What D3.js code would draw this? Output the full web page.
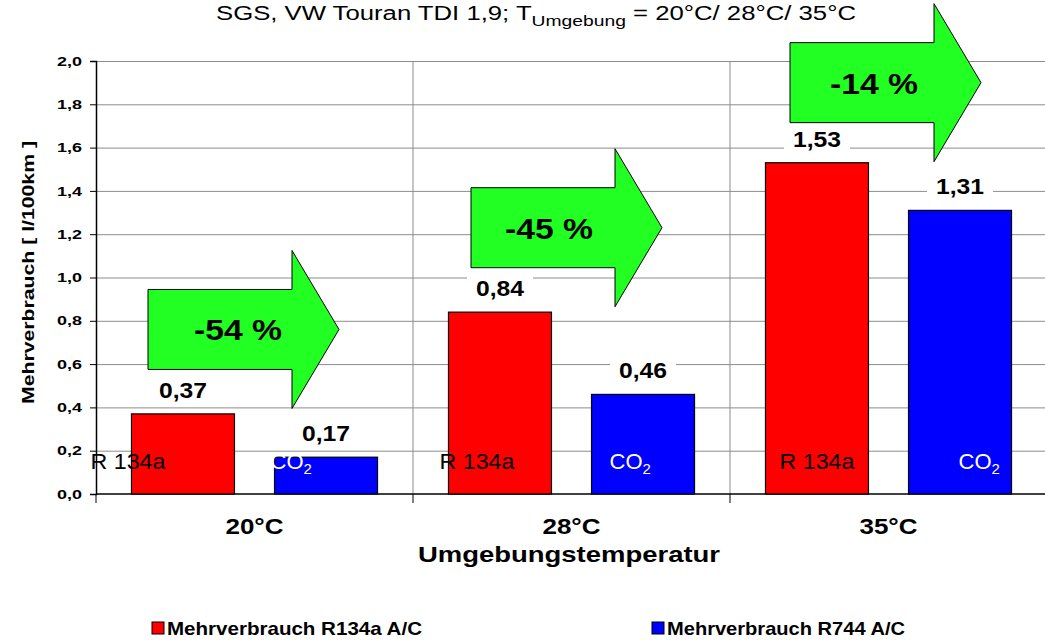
<!DOCTYPE html>
<html>
<head>
<meta charset="utf-8">
<script src="https://cdn.jsdelivr.net/npm/d3@7"></script>
<style>
  body { margin: 0; background: #fff; }
  svg { font-family: "Liberation Sans", Arial, sans-serif; }
  .grid line { stroke: #8c8c8c; stroke-width: 1; }
  .grid .domain { display: none; }
  .axis text { font-weight: bold; fill: #000; }
</style>
</head>
<body>
<svg id="chart"></svg>
<script>
// chart data
const categories = ['20°C', '28°C', '35°C'];
const seriesNames = ['Mehrverbrauch R134a A/C', 'Mehrverbrauch R744 A/C'];
const r134aValues = [0.37, 0.84, 1.53];
const r744Values = [0.17, 0.46, 1.31];
const reductionLabels = ['-54 %', '-45 %', '-14 %'];
const arrowLevels = [0.76, 1.23, 1.90];   // vertical centre of the arrows (value units)
const yTicks = [0, 0.2, 0.4, 0.6, 0.8, 1.0, 1.2, 1.4, 1.6, 1.8, 2.0];
const colors = ['#ff0000', '#0000ff'];

// the R 134a / CO2 labels were placed by hand in the original, offsets relative to bar start
const r134aLabelDx = [-41, -9, 14];
const co2LabelDx = [-4, 18, 50];

const config = {
  width: 1045,
  height: 640,
  margin: {top: 61, right: -2, bottom: 146, left: 96}
};

const svg = d3.select('#chart')
  .attr('width', config.width)
  .attr('height', config.height);

const innerW = config.width - config.margin.left - config.margin.right;
const innerH = config.height - config.margin.top - config.margin.bottom;

const chart = svg.append('g')
  .attr('transform', `translate(${config.margin.left},${config.margin.top})`);

const xScale = d3.scaleBand().domain(categories).range([0, innerW]).padding(0);
const xSub = d3.scaleBand().domain([0, 1]).range([0, xScale.bandwidth()])
  .paddingInner(0.28).paddingOuter(0.248);
const yScale = d3.scaleLinear().domain([0, 2]).range([innerH, 0]);

// the original picture is stretched sideways, so text gets a fixed length
const stretch = (sel, len) => sel.attr('textLength', len).attr('lengthAdjust', 'spacingAndGlyphs');

// horizontal gridlines
chart.append('g')
  .attr('class', 'grid')
  .call(d3.axisLeft(yScale).tickValues(yTicks.slice(1)).tickSize(-innerW).tickFormat(''));

// vertical category separators
chart.append('g')
  .attr('class', 'grid')
  .selectAll('line')
  .data(categories.slice(1))
  .join('line')
  .attr('x1', d => xScale(d)).attr('x2', d => xScale(d))
  .attr('y1', 0).attr('y2', innerH);

// y axis
const yAxisG = chart.append('g')
  .attr('class', 'axis')
  .call(d3.axisLeft(yScale).tickValues(yTicks).tickSize(6).tickPadding(8)
    .tickFormat(d => d3.format('.1f')(d).replace('.', ',')));
yAxisG.select('.domain').attr('stroke', '#000').attr('stroke-width', 1.5);
yAxisG.selectAll('.tick line').attr('stroke', '#000');
yAxisG.selectAll('text')
  .attr('font-size', 13)
  .attr('font-family', '"Liberation Sans", Arial, sans-serif')
  .call(stretch, 25);

// x axis: ticks at category boundaries
const xAxisG = chart.append('g')
  .attr('transform', `translate(0,${innerH})`);
xAxisG.append('line')
  .attr('x1', 0).attr('x2', innerW).attr('stroke', '#000').attr('stroke-width', 1.5);
xAxisG.selectAll('.bt')
  .data(categories.concat(['end']))
  .join('line')
  .attr('class', 'bt')
  .attr('x1', (d, i) => i * xScale.step()).attr('x2', (d, i) => i * xScale.step())
  .attr('y1', 0).attr('y2', 9).attr('stroke', '#000');
xAxisG.selectAll('.cat')
  .data(categories)
  .join('text')
  .attr('class', 'cat')
  .attr('x', d => xScale(d) + xScale.bandwidth() / 2)
  .attr('y', 40)
  .attr('text-anchor', 'middle')
  .attr('font-weight', 'bold')
  .attr('font-size', 22)
  .call(stretch, 58)
  .text(d => d);

// bars
const barData = categories.flatMap((c, i) => [
  {cat: c, s: 0, v: r134aValues[i], idx: i},
  {cat: c, s: 1, v: r744Values[i], idx: i}
]);

chart.selectAll('.bar')
  .data(barData)
  .join('rect')
  .attr('class', 'bar')
  .attr('x', d => xScale(d.cat) + xSub(d.s))
  .attr('width', xSub.bandwidth())
  .attr('y', d => yScale(d.v))
  .attr('height', d => innerH - yScale(d.v))
  .attr('fill', d => colors[d.s])
  .attr('stroke', '#000')
  .attr('stroke-width', 1.2);

// value labels with white box
const fmt = d => d3.format('.2f')(d).replace('.', ',');
const valG = chart.selectAll('.val')
  .data(barData)
  .join('g')
  .attr('class', 'val')
  .attr('transform', d => `translate(${xScale(d.cat) + xSub(d.s) + xSub.bandwidth() / 2},${yScale(d.v) - 16})`);
valG.append('rect')
  .attr('x', -33).attr('y', -22).attr('width', 66).attr('height', 28)
  .attr('fill', '#fff');
valG.append('text')
  .attr('text-anchor', 'middle')
  .attr('font-weight', 'bold')
  .attr('font-size', 22)
  .call(stretch, 48)
  .text(d => fmt(d.v));

// in-bar series labels
chart.selectAll('.rlab')
  .data(categories)
  .join('text')
  .attr('class', 'rlab')
  .attr('x', (d, i) => xScale(d) + xSub(0) + r134aLabelDx[i])
  .attr('y', yScale(0) - 25)
  .attr('font-size', 22)
  .attr('fill', '#000')
  .call(stretch, 75)
  .text('R 134a');

const co2 = chart.selectAll('.clab')
  .data(categories)
  .join('text')
  .attr('class', 'clab')
  .attr('x', (d, i) => xScale(d) + xSub(1) + co2LabelDx[i])
  .attr('y', yScale(0) - 25)
  .attr('font-size', 22)
  .attr('fill', '#fff');
co2.append('tspan').text('CO');
co2.append('tspan').attr('font-size', 15).attr('dy', 5).text('2');

// green reduction arrows
const bodyW = 144, headW = 47, bodyH = 40, headH = 79;
const arrowPath = (x, y) => [
  [x, y - bodyH], [x + bodyW, y - bodyH], [x + bodyW, y - headH],
  [x + bodyW + headW, y], [x + bodyW, y + headH], [x + bodyW, y + bodyH],
  [x, y + bodyH]
];
const arrowOffsets = [52, 58, 60];
const arrowTextDx = [18, 6, 12];

const arrows = chart.selectAll('.arrow')
  .data(categories)
  .join('g')
  .attr('class', 'arrow');
arrows.append('path')
  .attr('d', (d, i) => d3.line()(arrowPath(xScale(d) + arrowOffsets[i], yScale(arrowLevels[i]))) + 'Z')
  .attr('fill', '#22ff22')
  .attr('stroke', '#000')
  .attr('stroke-width', 1);
arrows.append('text')
  .attr('x', (d, i) => xScale(d) + arrowOffsets[i] + bodyW / 2 + arrowTextDx[i])
  .attr('y', (d, i) => yScale(arrowLevels[i]) + 11)
  .attr('text-anchor', 'middle')
  .attr('font-weight', 'bold')
  .attr('font-size', 30)
  .call(stretch, 88)
  .text((d, i) => reductionLabels[i]);

// title
const title = svg.append('text')
  .attr('x', 216)
  .attr('y', 20)
  .attr('font-size', 20)
  .attr('textLength', 640)
  .attr('lengthAdjust', 'spacingAndGlyphs');
title.append('tspan').text('SGS, VW Touran TDI 1,9; T');
title.append('tspan').attr('font-size', 15).attr('dy', 6).text('Umgebung');
title.append('tspan').attr('dy', -6).text(' = 20°C/ 28°C/ 35°C');

// axis titles
svg.append('text')
  .attr('transform', `translate(34,${config.margin.top + innerH / 2 - 5}) rotate(-90)`)
  .attr('text-anchor', 'middle')
  .attr('font-weight', 'bold')
  .attr('font-size', 16)
  .call(stretch, 263)
  .text('Mehrverbrauch [ l/100km ]');

svg.append('text')
  .attr('x', 569)
  .attr('y', 562)
  .attr('text-anchor', 'middle')
  .attr('font-weight', 'bold')
  .attr('font-size', 22)
  .call(stretch, 302)
  .text('Umgebungstemperatur');

// legend
const legendX = [152, 652];
const legendW = [255, 238];
const legend = svg.selectAll('.legend')
  .data(seriesNames)
  .join('g')
  .attr('class', 'legend')
  .attr('transform', (d, i) => `translate(${legendX[i]},628)`);
legend.append('rect')
  .attr('x', 0).attr('y', -6).attr('width', 12).attr('height', 12)
  .attr('fill', (d, i) => colors[i])
  .attr('stroke', '#000');
legend.append('text')
  .attr('x', 15)
  .attr('y', 7)
  .attr('font-weight', 'bold')
  .attr('font-size', 19)
  .attr('textLength', (d, i) => legendW[i])
  .attr('lengthAdjust', 'spacingAndGlyphs')
  .text(d => d);
</script>
</body>
</html>
